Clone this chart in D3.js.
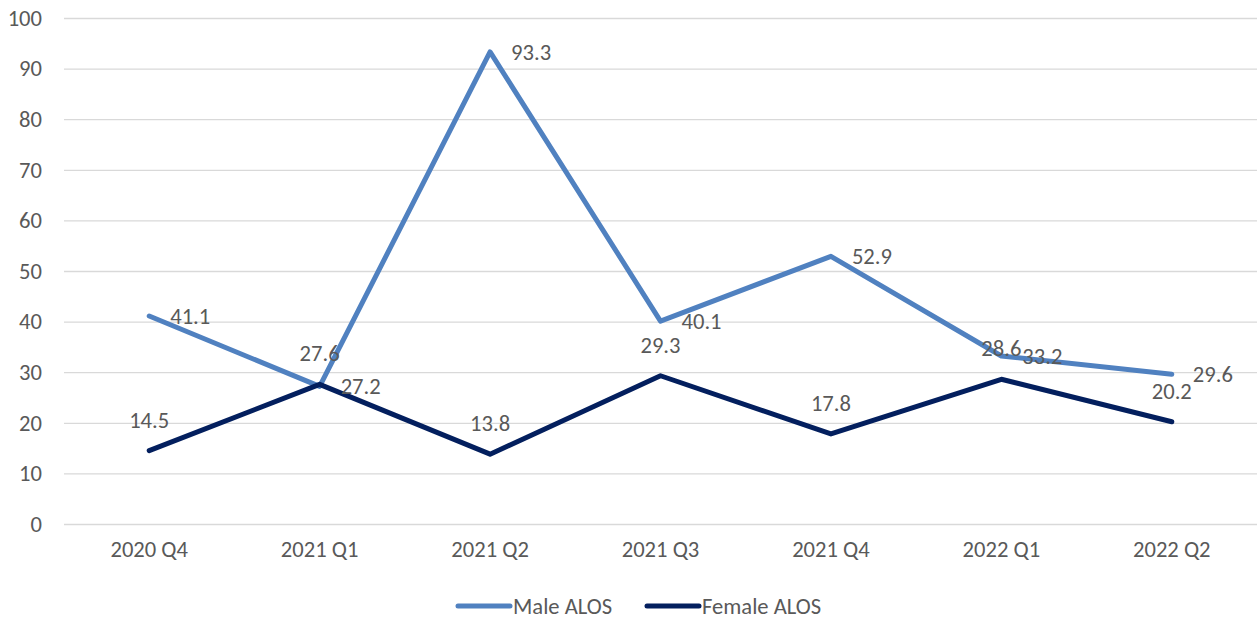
<!DOCTYPE html>
<html>
<head>
<meta charset="utf-8">
<script src="https://cdn.jsdelivr.net/npm/d3@7"></script>
<style>
  body { margin: 0; background: #fff; }
  text { font-family: Carlito, "Open Sans", "Liberation Sans", sans-serif; fill: #595959; }
</style>
</head>
<body>
<script>
// chart data
var quarters = ["2020 Q4", "2021 Q1", "2021 Q2", "2021 Q3", "2021 Q4", "2022 Q1", "2022 Q2"];
var maleAlos = [41.1, 27.2, 93.3, 40.1, 52.9, 33.2, 29.6];
var femaleAlos = [14.5, 27.6, 13.8, 29.3, 17.8, 28.6, 20.2];
var yTicks = [0, 10, 20, 30, 40, 50, 60, 70, 80, 90, 100];

var width = 1257,
    height = 621,
    plotLeft = 64,
    plotRight = 1257,
    plotTop = 18,
    plotBottom = 524,
    fontSize = 22.6;

var svg = d3.select("body").append("svg")
    .attr("width", width)
    .attr("height", height);

var x = d3.scaleBand()
    .domain(quarters)
    .range([plotLeft, plotRight]);

var y = d3.scaleLinear()
    .domain([0, 100])
    .range([plotBottom, plotTop]);

// gridlines + y labels
var yAxis = svg.append("g")
    .attr("transform", "translate(" + plotLeft + ",0)")
    .call(d3.axisLeft(y).tickValues(yTicks).tickSize(-(plotRight - plotLeft)).tickPadding(22));
yAxis.select(".domain").remove();
yAxis.selectAll("line").attr("stroke", "#d9d9d9").attr("stroke-width", 1.3);
yAxis.selectAll("text").attr("font-size", fontSize).attr("fill", "#595959");

// x labels
var xAxis = svg.append("g")
    .attr("transform", "translate(0," + plotBottom + ")")
    .call(d3.axisBottom(x).tickSize(0).tickPadding(17));
xAxis.select(".domain").remove();
xAxis.selectAll("text").attr("font-size", fontSize).attr("fill", "#595959");

var cx = function (d, i) { return x(quarters[i]) + x.bandwidth() / 2; };

var series = [
    { name: "Male ALOS", values: maleAlos, color: "#5081c0", label: "right" },
    { name: "Female ALOS", values: femaleAlos, color: "#031f5e", label: "above" }
];

var line = d3.line()
    .x(cx)
    .y(function (d) { return y(d); });

series.forEach(function (s) {
    svg.append("path")
        .datum(s.values)
        .attr("fill", "none")
        .attr("stroke", s.color)
        .attr("stroke-width", 5)
        .attr("stroke-linejoin", "round")
        .attr("stroke-linecap", "round")
        .attr("d", line);
});

// data labels
series.forEach(function (s) {
    svg.append("g").selectAll("text")
        .data(s.values)
        .enter().append("text")
        .attr("font-size", fontSize)
        .attr("fill", "#404040")
        .attr("x", function (d, i) { return s.label == "right" ? cx(d, i) + 21 : cx(d, i); })
        .attr("y", function (d) { return s.label == "right" ? y(d) + 8 : y(d) - 23; })
        .attr("text-anchor", s.label == "right" ? "start" : "middle")
        .text(function (d) { return d.toFixed(1); });
});

// legend
var legend = svg.append("g").attr("transform", "translate(0,606)");
var lx = [458, 647];
series.forEach(function (s, i) {
    legend.append("line")
        .attr("x1", lx[i]).attr("x2", lx[i] + 52)
        .attr("y1", 0).attr("y2", 0)
        .attr("stroke", s.color)
        .attr("stroke-width", 5)
        .attr("stroke-linecap", "round");
    legend.append("text")
        .attr("x", lx[i] + 55)
        .attr("y", 8)
        .attr("font-size", fontSize)
        .attr("fill", "#595959")
        .text(s.name);
});
</script>
</body>
</html>
